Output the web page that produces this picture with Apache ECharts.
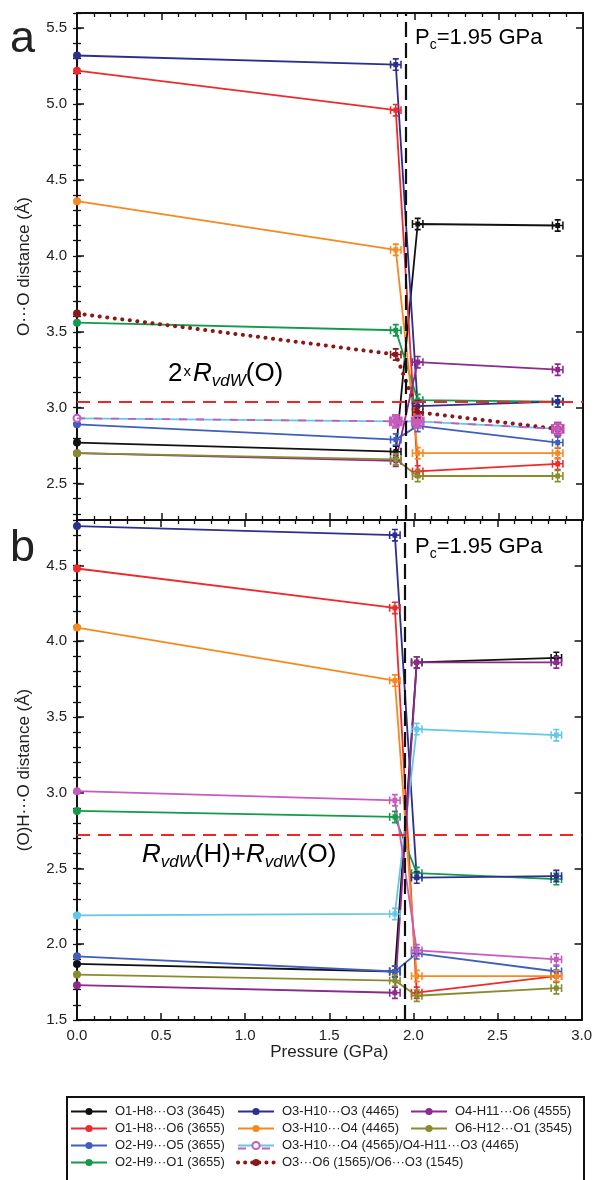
<!DOCTYPE html>
<html>
<head>
<meta charset="utf-8">
<script src="https://cdn.jsdelivr.net/npm/echarts@6/dist/echarts.min.js"></script>
<style>
html, body { margin: 0; padding: 0; background: #fff; }
#chart { width: 595px; height: 1180px; }
</style>
</head>
<body>
<div id="chart"></div>
<script>
// pressure points (GPa), shared by both panels
const pressure = [0, 1.89, 2.02, 2.85];
const pc = 1.95;
const rvdwOO = 3.04;   // 2 x RvdW(O)
const rvdwHO = 2.72;   // RvdW(H) + RvdW(O)

// panel a: O...O distances
const a_O1H8O3 = [2.77, 2.71, 4.21, 4.20];
const a_O1H8O6 = [5.22, 4.96, 2.58, 2.63];
const a_O2H9O5 = [2.89, 2.79, 2.88, 2.77];
const a_O2H9O1 = [3.56, 3.51, 3.05, 3.04];
const a_O3H10O3 = [5.32, 5.26, 3.01, 3.04];
const a_O3H10O4 = [4.36, 4.04, 2.70, 2.70];
const a_O3H10O4_4565 = [2.93, 2.91, 2.91, 2.86];
const a_O4H11O3 = [2.93, 2.91, 2.91, 2.86];
const a_O3O6 = [3.62, 3.35, 2.97, 2.86];
const a_O4H11O6 = [2.70, 2.65, 3.30, 3.25];
const a_O6H12O1 = [2.70, 2.66, 2.55, 2.55];

// panel b: (O)H...O distances
const b_O1H8O3 = [1.87, 1.82, 3.86, 3.89];
const b_O1H8O6 = [4.48, 4.22, 1.68, 1.79];
const b_O2H9O5 = [1.92, 1.82, 1.94, 1.82];
const b_O2H9O1 = [2.88, 2.84, 2.47, 2.43];
const b_O3H10O3 = [4.76, 4.70, 2.44, 2.45];
const b_O3H10O4 = [4.09, 3.74, 1.79, 1.79];
const b_O3H10O4_4565 = [2.19, 2.20, 3.42, 3.38];
const b_O4H11O3 = [3.01, 2.95, 1.96, 1.90];
const b_O4H11O6 = [1.73, 1.68, 3.86, 3.86];
const b_O6H12O1 = [1.80, 1.76, 1.66, 1.71];

// axis ticks
const xRange = [0, 3];
const yRangeA = [2.26, 5.6];
const yRangeB = [1.5, 4.8];
const yLabelsA = [2.5, 3.0, 3.5, 4.0, 4.5, 5.0, 5.5];
const yLabelsB = [1.5, 2.0, 2.5, 3.0, 3.5, 4.0, 4.5];

const N = {
  n1: 'O1-H8···O3 (3645)',
  n2: 'O1-H8···O6 (3655)',
  n3: 'O2-H9···O5 (3655)',
  n4: 'O2-H9···O1 (3655)',
  n5: 'O3-H10···O3 (4465)',
  n6: 'O3-H10···O4 (4465)',
  n7: 'O3-H10···O4 (4565)/O4-H11···O3 (4465)',
  n8: 'O3···O6 (1565)/O6···O3 (1545)',
  n9: 'O4-H11···O6 (4555)',
  n10: 'O6-H12···O1 (3545)'
};

const C = {
  black: '#111111', red: '#ef2a2d', blue: '#3e5ec0', green: '#139a4a',
  navy: '#2c2f8f', orange: '#f7891f', cyan: '#63c8e6', pink: '#c65bc0',
  maroon: '#8b1717', purple: '#8c2a8d', olive: '#898c2d'
};

const FONT = "'Liberation Sans', Arial, sans-serif";
const INK = '#222';
// error-bar glyph
const ERR = 'path://M0,4h2.6v12h-2.6z M17.4,4h2.6v12h-2.6z M1,8.8h18v2.4h-18z M8.8,1h2.4v18h-2.4z M5,0h10v2.6h-10z M5,17.4h10v2.6h-10z M6,6h8v8h-8z';

function tenths(lo, hi) {
  const out = [];
  for (let k = Math.ceil(lo * 10 - 1e-9); k <= Math.floor(hi * 10 + 1e-9); k++) out.push(k / 10);
  return out;
}

function xAxis(gi, pos, showLabel) {
  return {
    type: 'value', gridIndex: gi, position: pos,
    min: xRange[0], max: xRange[1], interval: 0.5,
    axisLine: { show: true, onZero: false, lineStyle: { color: '#111', width: 2 } },
    axisTick: { show: true, inside: true, length: 7, lineStyle: { color: '#111', width: 1.5 } },
    minorTick: { show: true, splitNumber: 5, length: 4, lineStyle: { color: '#111', width: 1.3 } },
    splitLine: { show: false },
    axisLabel: {
      show: showLabel, margin: 8, color: INK, fontSize: 15, fontFamily: FONT,
      formatter: v => v.toFixed(1)
    },
    name: showLabel ? 'Pressure (GPa)' : '',
    nameLocation: 'middle', nameGap: 20,
    nameTextStyle: { color: INK, fontSize: 17, fontFamily: FONT }
  };
}

function yAxes(gi, range, labels, name) {
  const base = {
    type: 'value', gridIndex: gi, min: range[0], max: range[1],
    splitLine: { show: false }
  };
  const minors = tenths(range[0], range[1]);
  return [
    Object.assign({}, base, {
      position: 'left',
      axisLine: { show: true, onZero: false, lineStyle: { color: '#111', width: 2 } },
      axisTick: { show: true, inside: true, length: 7, customValues: labels, lineStyle: { color: '#111', width: 1.5 } },
      axisLabel: {
        show: true, customValues: labels, margin: 10, color: INK, fontSize: 15, fontFamily: FONT,
        formatter: v => v.toFixed(1)
      },
      name: name, nameLocation: 'middle', nameGap: 44, nameRotate: 90,
      nameTextStyle: { color: INK, fontSize: 17, fontFamily: FONT }
    }),
    Object.assign({}, base, {
      position: 'left',
      axisLine: { show: false },
      axisTick: { show: true, inside: true, length: 4, customValues: minors, lineStyle: { color: '#111', width: 1.3 } },
      axisLabel: { show: false }
    }),
    Object.assign({}, base, {
      position: 'right',
      axisLine: { show: true, onZero: false, lineStyle: { color: '#111', width: 2 } },
      axisTick: { show: true, inside: true, length: 7, customValues: labels, lineStyle: { color: '#111', width: 1.5 } },
      axisLabel: { show: false }
    }),
    Object.assign({}, base, {
      position: 'right',
      axisLine: { show: false },
      axisTick: { show: true, inside: true, length: 4, customValues: minors, lineStyle: { color: '#111', width: 1.3 } },
      axisLabel: { show: false }
    })
  ];
}

function line(gi, name, vals, color, extra) {
  const s = {
    type: 'line', name: name, xAxisIndex: gi * 2, yAxisIndex: gi * 4,
    data: vals.map((v, i) => i === 0
      ? { value: [pressure[i], v] }
      : { value: [pressure[i], v], symbol: ERR, symbolSize: [12, 13] }),
    symbol: 'circle', symbolSize: 8, showSymbol: true, clip: false,
    lineStyle: { color: color, width: 1.8 },
    itemStyle: { color: color },
    emphasis: { disabled: true },
    z: 3
  };
  return Object.assign(s, extra || {});
}

function refLines(y) {
  return {
    silent: true, symbol: ['none', 'none'], label: { show: false }, animation: false,
    data: [
      { xAxis: pc, lineStyle: { color: '#111', width: 2.2, type: [15, 6] } },
      { yAxis: y, lineStyle: { color: '#f02525', width: 1.8, type: [13, 8] } }
    ]
  };
}

const dotted = { color: C.maroon, width: 4, type: [0.1, 7.5], cap: 'round' };

const series = [
  line(0, N.n1, a_O1H8O3, C.black, { markLine: refLines(rvdwOO) }),
  line(0, N.n2, a_O1H8O6, C.red),
  line(0, N.n3, a_O2H9O5, C.blue),
  line(0, N.n4, a_O2H9O1, C.green),
  line(0, N.n5, a_O3H10O3, C.navy),
  line(0, N.n6, a_O3H10O4, C.orange),
  line(0, N.n7, a_O3H10O4_4565, C.cyan, {
    symbol: 'emptyCircle', symbolSize: 7,
    itemStyle: { color: C.pink, borderColor: C.pink, borderWidth: 1.8 }
  }),
  line(0, 'O4-H11···O3 (4465)', a_O4H11O3, C.pink, {
    symbol: 'none', lineStyle: { color: C.pink, width: 1.8, type: [8, 9] }, z: 4
  }),
  line(0, N.n8, a_O3O6, C.maroon, { lineStyle: dotted, symbolSize: 8 }),
  line(0, N.n9, a_O4H11O6, C.purple),
  line(0, N.n10, a_O6H12O1, C.olive),

  line(1, N.n1, b_O1H8O3, C.black, { markLine: refLines(rvdwHO) }),
  line(1, N.n2, b_O1H8O6, C.red),
  line(1, N.n3, b_O2H9O5, C.blue),
  line(1, N.n4, b_O2H9O1, C.green),
  line(1, N.n5, b_O3H10O3, C.navy),
  line(1, N.n6, b_O3H10O4, C.orange),
  line(1, N.n7, b_O3H10O4_4565, C.cyan, { itemStyle: { color: C.cyan } }),
  line(1, 'O4-H11···O3 (4465)', b_O4H11O3, C.pink),
  line(1, N.n9, b_O4H11O6, C.purple),
  line(1, N.n10, b_O6H12O1, C.olive)
];

function legendCol(names, left) {
  return {
    data: names, left: left, top: 1105, orient: 'vertical', padding: 0,
    itemWidth: 36, itemHeight: 9, itemGap: 4, selectedMode: false,
    textStyle: { color: INK, fontSize: 13, fontFamily: FONT, padding: [0, 0, 0, 3] }
  };
}

const rich = {
  n: { fontSize: 22, fontFamily: FONT, color: INK, lineHeight: 28 },
  s: { fontSize: 14, fontFamily: FONT, color: INK, lineHeight: 28, verticalAlign: 'bottom' },
  big: { fontSize: 26, fontFamily: FONT, color: INK, lineHeight: 32 },
  x: { fontSize: 15, fontFamily: FONT, color: INK, lineHeight: 32, padding: [0, 2, 4, 1] },
  i: { fontSize: 26, fontFamily: FONT, fontStyle: 'italic', color: INK, lineHeight: 32 },
  si: { fontSize: 17, fontFamily: FONT, fontStyle: 'italic', color: INK, lineHeight: 32, verticalAlign: 'bottom' }
};

const pcText = '{n|P}{s|c}{n|=' + pc.toFixed(2) + ' GPa}';

const option = {
  backgroundColor: '#fff',
  animation: false,
  grid: [
    { left: 77, top: 13, width: 506, height: 507, show: false },
    { left: 77, top: 520, width: 506, height: 500, show: false }
  ],
  xAxis: [
    xAxis(0, 'bottom', false), xAxis(0, 'top', false),
    xAxis(1, 'bottom', true), xAxis(1, 'top', false)
  ],
  yAxis: [].concat(
    yAxes(0, yRangeA, yLabelsA, 'O···O distance (Å)'),
    yAxes(1, yRangeB, yLabelsB, '(O)H···O distance (Å)')
  ),
  legend: [
    legendCol([N.n1, N.n2, N.n3, N.n4], 70),
    legendCol([N.n5, N.n6, N.n7,
      { name: N.n8, lineStyle: { color: C.maroon, width: 4, type: [0.1, 7], cap: 'round' } }], 236),
    legendCol([N.n9, N.n10], 410)
  ],
  graphic: [
    { type: 'text', left: 10, top: 17, style: { text: 'a', font: '45px ' + FONT, fill: INK } },
    { type: 'text', left: 10, top: 526, style: { text: 'b', font: '45px ' + FONT, fill: INK } },
    { type: 'text', left: 415, top: 27, style: { text: pcText, rich: rich } },
    { type: 'text', left: 415, top: 536, style: { text: pcText, rich: rich } },
    { type: 'text', left: 168, top: 361, style: { text: '{big|2}{x|x}{i|R}{si|vdW}{big|(O)}', rich: rich } },
    { type: 'text', left: 142, top: 842, style: { text: '{i|R}{si|vdW}{big|(H)+}{i|R}{si|vdW}{big|(O)}', rich: rich } },
    { type: 'rect', shape: { x: 67, y: 1097, width: 517, height: 90 },
      style: { fill: 'none', stroke: '#111', lineWidth: 2 } },
    // magenta dashes on the combined legend icon
    { type: 'line', z: 100, shape: { x1: 238, y1: 1148.5, x2: 246, y2: 1148.5 },
      style: { stroke: C.pink, lineWidth: 2 } },
    { type: 'line', z: 100, shape: { x1: 262, y1: 1148.5, x2: 270, y2: 1148.5 },
      style: { stroke: C.pink, lineWidth: 2 } }
  ],
  series: series
};

const chart = echarts.init(document.getElementById('chart'), null, { renderer: 'canvas' });
chart.setOption(option);
</script>
</body>
</html>
